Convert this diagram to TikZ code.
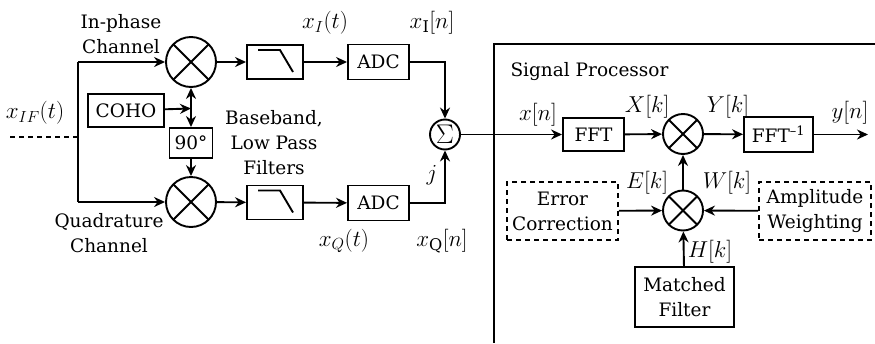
\RequirePackage{fix-cm}
\documentclass[tikz,border=0pt]{standalone}
\usepackage{fontspec}
\setmainfont{DejaVu Serif}
\usetikzlibrary{arrows.meta}
\begin{document}
\begin{tikzpicture}[x=1pt,y=-1pt,
  every node/.style={font=\fontsize{18.5}{25}\selectfont, inner sep=0pt},
  ml/.style={font=\fontsize{23}{25}\selectfont},
  lw/.style={line width=1.9pt},
  arr/.style={lw,-{Stealth[length=11pt,width=10pt]}},
  blk/.style={draw,lw,rectangle,minimum width=#1},
  mixer/.style={draw,lw,circle,minimum size=#1,
    path picture={\draw[lw] (path picture bounding box.north west) -- (path picture bounding box.south east);
                  \draw[lw] (path picture bounding box.north east) -- (path picture bounding box.south west);}},
  lpfsym/.style={draw,lw,rectangle,minimum width=56pt,minimum height=34pt,
    path picture={\draw[lw] ([shift={(-17pt,12pt)}]path picture bounding box.center) -- ++(22pt,0pt) -- ++(13pt,-22pt);}},
  lbl/.style={align=center},
  dsh/.style={lw,dash pattern=on 5pt off 4pt}
]
\useasboundingbox (0,0) rectangle (875,343);

% signal processor frame
\draw[lw] (875,44) -- (494,44) -- (494,343);
\node[anchor=center] (sptitle) at (589.5,72) {Signal Processor};

% front end nodes
\node[mixer=50pt] (mixI) at (191,62) {};
\node[mixer=50pt] (mixQ) at (191,202) {};
\node[lpfsym] (lpfI) at (275,62) {};
\node[lpfsym] (lpfQ) at (275,202.5) {};
\node[blk=61pt,minimum height=35pt] (adcI) at (378.5,62) {ADC};
\node[blk=61pt,minimum height=35pt] (adcQ) at (378.5,203) {ADC};
\node[draw,lw,circle,minimum size=30pt,font=\fontsize{27}{27}\selectfont] (sum) at (445,134.5) {$\Sigma$};
\node[blk=76pt,minimum height=33pt] (coho) at (126,110.5) {COHO};
\node[blk=43pt,minimum height=30pt] (ph) at (191,143) {90°};
\coordinate (jn) at (191,108.5);
\coordinate (inL) at (10,137);
\coordinate (inJ) at (78,137);
\coordinate (inT) at (78,62);
\coordinate (inB) at (78,202);

% signal processor nodes
\node[blk=61pt,minimum height=33pt] (fft) at (593.5,134.5) {FFT};
\node[mixer=40pt] (mixY) at (683,134) {};
\node[blk=69pt,minimum height=35pt] (ifft) at (778.5,134.5) {FFT\textsuperscript{–1}};
\coordinate (out) at (868,134.5);
\node[mixer=40pt] (mixH) at (683,210.5) {};
\node[draw,dsh,minimum width=111pt,minimum height=58pt,lbl] (err) at (562.5,211) {Error\\Correction};
\node[draw,dsh,minimum width=112pt,minimum height=58pt,lbl] (amp) at (815,211) {Amplitude\\Weighting};
\node[blk=99pt,minimum height=60pt,lbl] (mf) at (684.5,297) {Matched\\Filter};

% connectors front end
\draw[dsh] (inL) -- (inJ);
\draw[lw] (inT) -- (inB);
\draw[arr] (inT) -- (mixI);
\draw[arr] (inB) -- (mixQ);
\draw[arr] (coho) -- (jn);
\draw[arr] (jn) -- (mixI);
\draw[arr] (jn) -- (ph);
\draw[arr] (ph) -- (mixQ);
\draw[arr] (mixI) -- (lpfI);
\draw[arr] (mixQ) -- (lpfQ);
\draw[arr] (lpfI) -- (adcI);
\draw[arr] (lpfQ) -- (adcQ);
\draw[arr] (adcI.east) -| (sum.north);
\draw[arr] (adcQ.east) -| (sum.south);

% connectors signal processor
\draw[arr] (sum.east) -- (fft.west);
\draw[arr] (fft) -- (mixY);
\draw[arr] (mixY) -- (ifft);
\draw[arr] (ifft) -- (out);
\draw[arr] (mixH) -- (mixY);
\draw[arr] (err) -- (mixH);
\draw[arr] (amp) -- (mixH);
\draw[arr] (mf) -- (mixH);

% labels
\node[lbl] (lin) at (121,34) {In-phase\\Channel};
\node[lbl] (lq) at (109,233) {Quadrature\\Channel};
\node[ml] (lxif) at (35,113) {$x_{IF}(t)$};
\node[lbl] (lbb) at (274,143) {Baseband,\\Low Pass\\Filters};
\node[ml] (lxit) at (325,23) {$x_I(t)$};
\node[ml] (lxin) at (432,23) {$x_{\mathrm{I}}[n]$};
\node[ml] (lxqt) at (344,241) {$x_Q(t)$};
\node[ml] (lxqn) at (442,241) {$x_{\mathrm{Q}}[n]$};
\node[ml] (lj) at (432,175) {$j$};
\node[ml] (lxn) at (538,115) {$x[n]$};
\node[ml] (lXk) at (647,107) {$X[k]$};
\node[ml] (lYk) at (728,107) {$Y[k]$};
\node[ml] (lyn) at (850,113) {$y[n]$};
\node[ml] (lEk) at (647,183) {$E[k]$};
\node[ml] (lWk) at (727,183) {$W[k]$};
\node[ml] (lHk) at (710,252) {$H[k]$};
\end{tikzpicture}
\end{document}
